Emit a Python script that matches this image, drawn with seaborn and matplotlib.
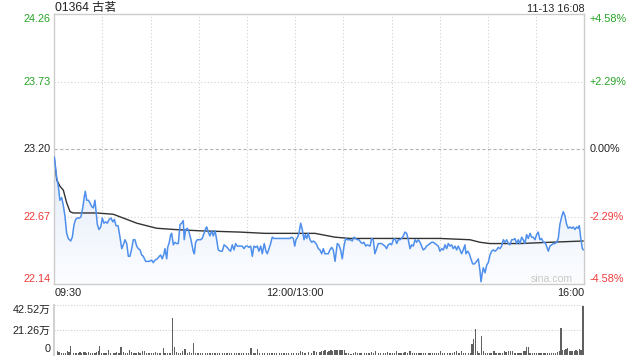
import numpy as np
import matplotlib
matplotlib.use("Agg")
import matplotlib.pyplot as plt
import seaborn as sns
import pandas as pd
from matplotlib.colors import LinearSegmentedColormap
from matplotlib.patches import Polygon

# ---------------- data (minutes since 09:30, lunch break removed) ----------------
t_seg1 = [0, 1.5, 2.5, 3.5, 4.6, 5.6, 6.7, 7.7, 8.7, 10.2, 11.2, 12.3, 13.3, 14.3, 15.6, 16.6, 17.7, 18.7, 19.3, 20.2,
          21.2, 22.2, 23.3, 24.3, 25.3, 26.0, 26.8, 27.8, 28.9, 29.9, 30.9, 32.0, 33.0, 34.2, 35.3, 36.4, 37.4, 38.4, 39.7, 40.9,
          42.0, 43.0, 44.0, 45.1, 46.1, 47.1, 48.2, 49.2, 50.2, 51.3, 52.3, 53.4, 54.4, 55.4, 56.9, 57.9, 59.1, 60.6, 61.6, 62.7,
          64.1, 65.4]
p_seg1 = [23.14, 22.98, 22.91, 22.80, 22.82, 22.76, 22.67, 22.54, 22.50, 22.48, 22.51, 22.61, 22.65, 22.66, 22.66, 22.67, 22.74, 22.83, 22.87, 22.80,
          22.80, 22.78, 22.75, 22.74, 22.80, 22.71, 22.61, 22.57, 22.59, 22.66, 22.62, 22.63, 22.62, 22.65, 22.66, 22.63, 22.65, 22.60, 22.60, 22.51,
          22.42, 22.45, 22.49, 22.46, 22.36, 22.36, 22.42, 22.49, 22.49, 22.44, 22.42, 22.41, 22.37, 22.36, 22.32, 22.32, 22.32, 22.33, 22.31, 22.33,
          22.34, 22.36]

t_seg2 = [66.2, 67.2, 68.3, 68.9, 70.0, 70.6, 71.6, 72.5, 73.1, 74.1, 75.1, 76.2, 77.2, 78.3, 79.3, 80.3, 80.9, 81.8, 82.8, 83.9,
          85.1, 86.5, 87.2, 88.0, 89.0, 90.1, 91.1, 92.1, 93.2, 94.3, 94.9, 95.9, 96.9, 98.0, 99.0, 100.1, 101.1, 102.1, 103.4, 104.6,
          105.7, 106.7, 107.7, 108.8, 109.8, 110.8, 111.9, 112.9, 113.9, 115.0, 116.1, 117.0, 118.1, 119.2, 120.2, 121.2, 122.3, 123.3, 124.3, 125.4,
          126.4, 127.4, 128.5, 129.5, 130.7]
p_seg2 = [22.37, 22.34, 22.38, 22.42, 22.34, 22.43, 22.47, 22.53, 22.54, 22.45, 22.47, 22.46, 22.46, 22.61, 22.62, 22.64, 22.49, 22.57, 22.58, 22.55,
          22.49, 22.40, 22.38, 22.47, 22.49, 22.49, 22.49, 22.50, 22.54, 22.58, 22.59, 22.55, 22.52, 22.56, 22.52, 22.56, 22.49, 22.41, 22.40, 22.40,
          22.45, 22.44, 22.43, 22.41, 22.40, 22.45, 22.41, 22.46, 22.44, 22.44, 22.44, 22.44, 22.42, 22.44, 22.44, 22.43, 22.44, 22.36, 22.44, 22.43,
          22.44, 22.40, 22.44, 22.38, 22.46]

t_seg3 = [131.8, 132.6, 133.7, 134.7, 135.7, 136.8, 140.5, 144.7, 146.7, 147.8, 148.8, 149.7, 150.5, 151.5, 152.5, 153.4, 154.4, 155.5, 156.3, 157.2,
          158.1, 159.2, 160.3, 161.3, 162.3, 163.4, 164.4, 165.4, 166.5, 167.5, 168.5, 169.6, 170.6, 171.6, 172.7, 173.7, 174.8, 175.4, 176.2, 177.2,
          178.3, 179.3, 180.4, 181.4, 182.4, 183.5, 184.5, 185.5, 186.6, 187.6, 188.6, 189.7, 190.8, 191.8, 192.8, 193.9, 194.9]
p_seg3 = [22.40, 22.38, 22.42, 22.46, 22.51, 22.50, 22.50, 22.50, 22.50, 22.51, 22.50, 22.44, 22.49, 22.51, 22.55, 22.62, 22.57, 22.49, 22.53, 22.50,
          22.54, 22.49, 22.47, 22.48, 22.47, 22.45, 22.42, 22.41, 22.38, 22.42, 22.38, 22.38, 22.38, 22.41, 22.43, 22.41, 22.32, 22.38, 22.46, 22.45,
          22.41, 22.34, 22.44, 22.50, 22.49, 22.49, 22.49, 22.48, 22.51, 22.50, 22.49, 22.49, 22.47, 22.46, 22.47, 22.44, 22.45]

t_seg4 = [196.6, 197.6, 198.6, 199.6, 200.7, 201.7, 202.8, 203.8, 204.8, 205.9, 206.9, 207.9, 209.0, 210.0, 211.1, 212.1, 213.2, 214.2, 215.2, 216.3,
          217.3, 218.3, 219.4, 220.4, 221.5, 222.5, 223.5, 224.6, 225.6, 226.6, 227.7, 228.7, 229.7, 230.8, 231.8, 232.9, 233.9, 235.0, 236.0, 237.0,
          238.1, 239.1, 240.1, 241.2, 242.2, 243.3, 244.3, 245.3, 246.4, 247.4, 248.4, 249.5, 250.5, 251.5, 252.6, 253.6, 254.6, 255.7, 256.3, 257.4,
          258.4]
p_seg4 = [22.44, 22.50, 22.49, 22.38, 22.42, 22.46, 22.46, 22.46, 22.45, 22.44, 22.42, 22.45, 22.46, 22.45, 22.49, 22.50, 22.46, 22.49, 22.49, 22.50,
          22.52, 22.55, 22.54, 22.49, 22.42, 22.45, 22.44, 22.49, 22.47, 22.49, 22.47, 22.44, 22.41, 22.42, 22.44, 22.45, 22.46, 22.47, 22.47, 22.46,
          22.45, 22.44, 22.40, 22.42, 22.41, 22.45, 22.42, 22.46, 22.44, 22.45, 22.42, 22.44, 22.41, 22.44, 22.41, 22.38, 22.41, 22.45, 22.38, 22.40,
          22.38]

t_seg5 = [259.4, 260.5, 261.5, 263.0, 264.0, 265.0, 265.7, 266.5, 267.1, 268.2, 269.2, 270.2, 271.3, 272.3, 273.3, 274.4, 275.4, 276.4, 277.5, 278.5,
          279.6, 280.6, 281.7, 282.7, 283.7, 284.8, 285.8, 286.8, 287.9, 288.9, 289.9, 291.0, 292.0, 293.0, 294.1, 295.1, 296.2, 297.2, 298.2, 299.3,
          300.3, 301.3, 302.4, 303.4, 304.5, 305.5, 306.5, 307.6, 308.6, 309.6, 310.7, 311.7, 312.8, 313.8, 314.8, 315.9, 316.9, 317.9, 319.0, 320.0,
          321.1, 322.1, 323.1, 324.2, 325.2, 326.2, 326.9, 327.7, 328.8, 329.4]
p_seg5 = [22.34, 22.30, 22.30, 22.32, 22.34, 22.25, 22.16, 22.23, 22.27, 22.23, 22.29, 22.31, 22.37, 22.40, 22.41, 22.40, 22.41, 22.43, 22.42, 22.44,
          22.49, 22.47, 22.49, 22.46, 22.45, 22.49, 22.49, 22.50, 22.46, 22.49, 22.46, 22.51, 22.49, 22.46, 22.53, 22.50, 22.54, 22.51, 22.51, 22.49,
          22.53, 22.55, 22.49, 22.50, 22.47, 22.47, 22.44, 22.40, 22.44, 22.45, 22.46, 22.46, 22.47, 22.50, 22.61, 22.67, 22.71, 22.68, 22.61, 22.58,
          22.59, 22.58, 22.59, 22.57, 22.59, 22.58, 22.60, 22.51, 22.42, 22.41]

avg_t = [0, 1.5, 3.5, 5.6, 7.7, 9.8, 11.8, 16.0, 20.2, 26.4, 36.7, 40.9, 45.1, 51.3, 57.5, 63.8, 75.1, 90.7, 115.6, 131.2,
         146.7, 162.3, 174.8, 184.1, 215.2, 240.1, 258.8, 265.0, 271.3, 289.9, 308.6, 329.4]
avg_p = [23.13, 22.96, 22.91, 22.88, 22.78, 22.71, 22.70, 22.70, 22.70, 22.70, 22.69, 22.67, 22.65, 22.62, 22.60, 22.58, 22.57, 22.56, 22.55, 22.54,
         22.54, 22.54, 22.51, 22.50, 22.50, 22.50, 22.49, 22.47, 22.46, 22.46, 22.47, 22.48]

# volume (unit: 万)
vt_a = [1.9, 2.9, 4.6, 5.6, 7.1, 8.1, 9.2, 10.2, 11.8, 13.5, 15.0, 16.0, 17.0, 18.1, 19.1, 20.2, 21.2, 22.6, 23.9, 25.3,
        26.4, 27.4, 28.0, 29.5, 30.9, 32.2, 33.6, 35.1, 36.8, 37.8, 38.8, 40.3, 41.5, 43.0, 44.2, 45.5, 46.7, 48.2, 49.6, 50.9,
        52.3, 53.4, 55.0, 56.1, 57.5, 59.0, 60.4, 61.7, 63.1, 64.1, 65.8, 67.9, 68.9, 70.4, 71.6, 72.5, 73.5, 74.7, 76.2, 77.4,
        78.7, 79.9, 81.4, 82.8, 84.1, 85.3, 86.6, 87.8]
vv_a = [2.9, 2.0, 1.4, 1.4, 1.7, 2.9, 2.0, 7.7, 1.1, 0.9, 1.4, 2.0, 1.7, 2.3, 2.3, 1.7, 2.0, 1.4, 1.7, 1.4,
        2.3, 2.9, 6.9, 1.7, 1.1, 1.4, 4.0, 1.4, 1.1, 1.7, 2.3, 1.4, 6.3, 2.0, 1.7, 1.4, 4.0, 2.3, 1.7, 1.4,
        2.0, 1.7, 2.9, 3.4, 1.7, 1.1, 1.4, 1.1, 2.0, 1.1, 0.9, 5.7, 1.7, 1.4, 1.1, 1.7, 31.5, 6.6, 2.3, 1.7,
        1.1, 2.9, 4.3, 1.7, 2.3, 1.4, 10.0, 1.1]
vt_b = [89.5, 91.0, 92.5, 94.0, 95.5, 97.0, 98.5, 100.0, 101.5, 103.0, 104.5, 106.0, 107.5, 109.0, 110.5, 112.0, 113.5, 115.0, 116.5, 118.0,
        119.5, 121.0, 122.5, 123.9, 125.0, 126.4, 127.7, 129.5, 131.0, 132.5, 134.0, 135.5, 137.0, 138.5, 140.0, 141.5, 143.0, 144.5, 146.0, 147.5,
        149.0, 151.0, 152.0, 153.4, 154.4, 156.1, 158.2, 160.2, 161.7, 163.3]
vv_b = [0.9, 1.1, 0.9, 1.1, 0.9, 1.4, 1.1, 0.9, 1.1, 1.4, 1.1, 0.9, 1.1, 1.4, 0.9, 1.1, 1.4, 1.1, 0.9, 1.1,
        1.4, 1.1, 5.7, 1.7, 1.4, 4.9, 1.4, 1.1, 0.9, 1.1, 0.9, 1.1, 1.1, 0.9, 1.1, 0.9, 1.1, 1.1, 0.9, 1.1,
        1.1, 1.1, 1.4, 2.9, 2.3, 1.7, 2.3, 1.7, 2.9, 2.3]
vt_c = [165.4, 166.5, 167.5, 168.5, 170.2, 171.0, 172.3, 173.3, 174.3, 175.4, 176.4, 177.5, 178.5, 179.5, 180.6, 181.6, 183.1, 184.7, 186.2, 187.6,
        188.9, 190.3, 191.4, 193.0, 194.5, 195.9, 197.6, 198.6, 200.1, 201.7, 203.2, 204.9, 206.3, 207.6, 209.0, 210.5, 211.7, 213.2, 214.6, 215.9,
        217.3, 218.3, 220.0, 221.5, 222.9, 224.2, 225.6, 227.1, 228.3, 229.8, 231.2, 232.9, 233.9, 235.4, 236.6, 238.1, 239.1, 240.6, 241.8, 243.2,
        244.7, 246.4, 247.8, 249.1, 250.5, 252.0, 253.6, 254.9, 256.1, 257.8, 259.0]
vv_c = [2.0, 2.9, 3.4, 4.0, 2.3, 3.4, 3.7, 3.4, 3.7, 3.7, 3.7, 3.7, 3.7, 3.7, 3.7, 1.4, 0.9, 0.6, 0.9, 2.3,
        1.4, 1.1, 1.7, 1.1, 0.9, 1.4, 2.0, 1.4, 2.6, 1.1, 1.4, 1.1, 1.7, 2.3, 1.1, 1.4, 1.1, 3.4, 1.1, 1.4,
        1.4, 2.3, 1.4, 2.6, 1.4, 1.1, 0.9, 1.4, 1.7, 1.1, 0.9, 1.4, 1.1, 1.7, 0.9, 1.1, 1.1, 2.9, 1.1, 1.1,
        1.4, 1.7, 1.4, 2.3, 2.9, 1.1, 2.6, 1.7, 0.9, 1.4, 1.4]
vt_d = [260.1, 260.9, 262.1, 263.4, 264.4, 265.9, 267.1, 268.6, 269.8, 271.3, 272.3, 273.8, 275.0, 276.5, 277.5, 278.9, 280.2, 281.2, 282.7, 284.1,
        285.4, 286.8, 288.3, 289.3, 290.6, 292.0, 293.1, 294.1, 295.1, 296.2, 297.6, 298.9, 300.3, 301.8, 303.0, 304.5, 305.5, 307.0, 308.2, 309.7,
        310.7, 312.2, 313.4, 314.4, 315.5, 316.5, 317.5, 318.6, 319.6, 320.7, 321.7, 322.7, 323.8, 324.8, 325.8, 326.9, 327.9, 328.8, 329.8]
vv_d = [8.6, 12.9, 21.5, 2.9, 1.7, 15.7, 3.4, 1.4, 1.7, 1.1, 1.4, 2.9, 1.4, 0.9, 1.7, 1.4, 2.9, 2.0, 2.6, 2.9,
        3.4, 1.1, 0.9, 1.4, 1.4, 2.9, 3.4, 6.6, 6.6, 1.1, 0.9, 1.4, 1.7, 0.9, 1.1, 1.4, 0.9, 1.4, 1.1, 0.9,
        1.4, 1.1, 2.3, 3.4, 22.4, 4.0, 4.0, 4.6, 5.2, 2.9, 3.4, 3.4, 3.4, 3.7, 3.4, 4.3, 4.0, 42.0, 41.5]

price_ticks = [22.14, 22.67, 23.20, 23.73, 24.26]
price_labels = ["22.14", "22.67", "23.20", "23.73", "24.26"]
pct_labels = ["-4.58%", "-2.29%", "0.00%", "+2.29%", "+4.58%"]
vol_ticks = [0, 21.26, 42.52]
vol_labels = ["0", "21.26万", "42.52万"]
x_ticks = [0, 150, 330]
x_labels = ["09:30", "12:00/13:00", "16:00"]
title = "01364 古茗"
stamp = "11-13 16:08"

# ---------------- assemble ----------------
t_price = t_seg1 + t_seg2 + t_seg3 + t_seg4 + t_seg5
price = p_seg1 + p_seg2 + p_seg3 + p_seg4 + p_seg5
assert len(t_price) == len(price)
vol_t = vt_a + vt_b + vt_c + vt_d
vol_v = vv_a + vv_b + vv_c + vv_d
assert len(vol_t) == len(vol_v)
df_price = pd.DataFrame({"t": t_price, "p": price})
df_avg = pd.DataFrame({"t": avg_t, "p": avg_p})

sns.set_theme(style="white")
plt.rcParams["font.family"] = ["Liberation Sans", "Noto Sans CJK SC", "DejaVu Sans"]
plt.rcParams["axes.unicode_minus"] = False

BLUE = "#4f8fec"
GREEN = "#27a327"
RED = "#ee3b3b"
TXT = "#222222"
GRID = "#d0d0d0"
SPINE = "#cccccc"

W, H = 640, 360
fig = plt.figure(figsize=(6.4, 3.6), dpi=100)
fig.patch.set_facecolor("white")
L, R = 54.3, 584.3
ax = fig.add_axes([L / W, 1 - 284.3 / H, (R - L) / W, 270 / H])
axv = fig.add_axes([L / W, 1 - 354.5 / H, (R - L) / W, 49.5 / H])

XMIN, XMAX = 0, 330
YMIN, YMAX = price_ticks[0], price_ticks[-1]

# grid
for x in range(30, 330, 30):
    ax.axvline(x, color=GRID, lw=0.8, ls=(0, (1, 2)), zorder=0.5)
ax.axhline(price_ticks[1], color=GRID, lw=0.8, ls=(0, (1, 2)), zorder=0.5)
ax.axhline(price_ticks[3], color=GRID, lw=0.8, ls=(0, (1, 2)), zorder=0.5)
ax.axhline(price_ticks[2], color="#b5b5b5", lw=0.8, ls=(0, (3, 2)), zorder=0.5)

# gradient fill under price line
poly_xy = np.column_stack([np.r_[t_price, t_price[-1], t_price[0]],
                           np.r_[price, YMIN, YMIN]])
poly = Polygon(poly_xy, closed=True, fc="none", ec="none", transform=ax.transData)
ax.add_patch(poly)
cmap = LinearSegmentedColormap.from_list("g", ["#fcfdff", "#e2ebfa"])
grad = np.linspace(1, 0, 256).reshape(-1, 1)
im = ax.imshow(grad, extent=[XMIN, XMAX, YMIN, max(price)], origin="upper",
               aspect="auto", cmap=cmap, zorder=1, interpolation="bilinear")
im.set_clip_path(poly)

sns.lineplot(data=df_avg, x="t", y="p", ax=ax, color="#333333", lw=1.0,
             estimator=None, sort=False, zorder=2)
sns.lineplot(data=df_price, x="t", y="p", ax=ax, color=BLUE, lw=1.1,
             estimator=None, sort=False, zorder=3)

ax.set_xlim(XMIN, XMAX)
ax.set_ylim(YMIN, YMAX)
ax.set_xlabel("")
ax.set_ylabel("")
ax.set_xticks(x_ticks)
ax.set_xticklabels(x_labels)
ax.set_yticks(price_ticks)
ax.set_yticklabels(price_labels)
ax.tick_params(axis="both", length=0, labelsize=7.8, colors=TXT)
ax.tick_params(axis="y", pad=2.6)
ax.tick_params(axis="x", pad=2.8)
for sp in ax.spines.values():
    sp.set_color(SPINE)
    sp.set_linewidth(1.0)

colors_left = [RED, RED, TXT, GREEN, GREEN]
vas = ["bottom", "center", "center", "center", "top"]
for tk, c, va in zip(ax.yaxis.get_major_ticks(), colors_left, vas):
    tk.label1.set_color(c)
    tk.label1.set_va(va)
xt = ax.xaxis.get_major_ticks()
xt[0].label1.set_ha("left")
xt[-1].label1.set_ha("right")

ax2 = ax.twinx()
ax2.set_ylim(YMIN, YMAX)
ax2.set_yticks(price_ticks)
ax2.set_yticklabels(pct_labels)
ax2.tick_params(axis="y", length=0, labelsize=7.8, pad=3.9)
for sp in ax2.spines.values():
    sp.set_visible(False)
ax2.grid(False)
for tk, c, va in zip(ax2.yaxis.get_major_ticks(), colors_left, vas):
    tk.label2.set_color(c)
    tk.label2.set_va(va)

# watermark
ax.text(0.939, 0.02, "sina.com", transform=ax.transAxes, ha="center", va="center",
        fontsize=7.6, color="#c8c8c8", zorder=4)

# volume panel
axv.axhline(vol_ticks[1], color=GRID, lw=0.8, ls=(0, (1, 1.5)), zorder=0.5)
axv.axhline(vol_ticks[2], color=GRID, lw=0.8, ls=(0, (1, 1.5)), zorder=0.5)
axv.bar(vol_t, vol_v, width=0.75, color="#606060", linewidth=0, zorder=2)
axv.set_xlim(XMIN, XMAX)
axv.set_ylim(0, vol_ticks[-1])
axv.set_xticks([])
axv.set_yticks(vol_ticks)
axv.set_yticklabels(vol_labels)
axv.tick_params(axis="y", length=0, labelsize=7.8, colors=TXT, pad=2.6)
for name, sp in axv.spines.items():
    sp.set_visible(name == "left")
    sp.set_color(SPINE)
vt = axv.yaxis.get_major_ticks()
vt[0].label1.set_va("bottom")
vt[-1].label1.set_va("top")

fig.text(54.7 / W, 1 - 8.5 / H, title, ha="left", va="center", fontsize=8.7, color=TXT)
fig.text(584.3 / W, 1 - 8.5 / H, stamp, ha="right", va="center", fontsize=7.8, color=TXT)

fig.savefig("out.png", dpi=100, facecolor="white")
